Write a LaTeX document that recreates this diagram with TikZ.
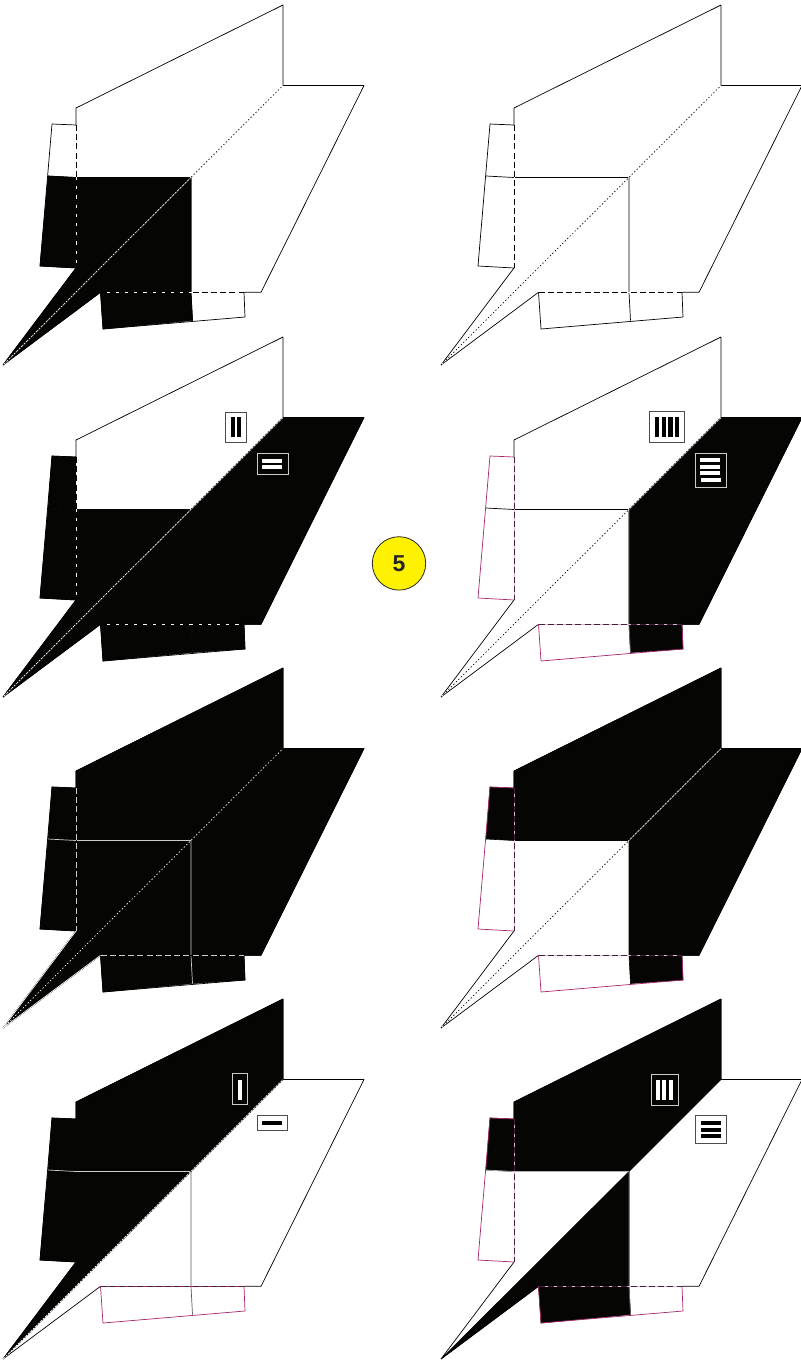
\documentclass[tikz,border=0pt]{standalone}
\usepackage{fontspec}
\setmainfont{Liberation Sans}
\definecolor{ink}{HTML}{050504}
\definecolor{plum}{HTML}{A8246E}
\definecolor{plumdark}{HTML}{43203F}
\definecolor{plumpale}{HTML}{DDB8D0}
\definecolor{badgeyellow}{HTML}{FFF200}
\tikzset{
  edge/.style={line width=0.7pt,line join=bevel},
  inkfill/.style={fill=ink,draw=ink,line width=0.6pt,line join=bevel},
  dashline/.style={line width=0.8pt,dash pattern=on 6pt off 3.2pt},
  dotline/.style={line width=0.7pt,dash pattern=on 1.3pt off 2.2pt},
  iconlight/.style={draw=black!70,line width=0.8pt,fill=white},
  icondark/.style={draw=white!80!black,line width=0.8pt,fill=ink},
  badge/.style={circle,draw=black!85,line width=0.8pt,fill=badgeyellow,minimum size=53.4pt,inner sep=0pt,font=\fontsize{23}{23}\selectfont\bfseries,text=black!85}
}
% geometry of one sheet
\newcommand\Geom{
  \coordinate (T) at (3,365);
  \coordinate (Nb) at (76,268);
  \coordinate (Lb) at (40,266);
  \coordinate (Lm) at (48,176);
  \coordinate (Lt) at (52,124);
  \coordinate (Tr) at (76,125);
  \coordinate (Hl) at (76,177.5);
  \coordinate (Wl) at (76,108);
  \coordinate (Ut) at (283,5);
  \coordinate (Dg) at (283,85.5);
  \coordinate (Rr) at (364,85.5);
  \coordinate (Rb) at (261,292.3);
  \coordinate (Bf) at (244,292.3);
  \coordinate (Vb) at (191,292.3);
  \coordinate (Bl) at (100.5,292.3);
  \coordinate (Bb) at (103,329);
  \coordinate (Bm) at (192.5,320.5);
  \coordinate (Br) at (245,317);
  \coordinate (C) at (191,177.5);
}
\newcommand\rTabTop{(Lt) -- (Tr) -- (Hl) -- (Lm) -- cycle}
\newcommand\rTabBot{(Lm) -- (Hl) -- (Nb) -- (Lb) -- cycle}
\newcommand\rWall{(Wl) -- (Ut) -- (Dg) -- (C) -- (Hl) -- cycle}
\newcommand\rA{(Hl) -- (C) -- (T) -- (Nb) -- cycle}
\newcommand\rB{(C) -- (Vb) -- (Bl) -- (T) -- cycle}
\newcommand\rD{(C) -- (Dg) -- (Rr) -- (Rb) -- (Vb) -- cycle}
\newcommand\rE{(Bl) -- (Bb) -- (Bm) -- (Vb) -- cycle}
\newcommand\rF{(Vb) -- (Bm) -- (Br) -- (Bf) -- cycle}
\newcommand\Outline{\draw[edge] (Tr) -- (Wl) -- (Ut) -- (Dg) -- (Rr) -- (Rb) -- (Bf);
  \draw[edge] (Bl) -- (T) -- (Nb);}
\newcommand\TabL[1]{\draw[edge,draw=#1] (Tr) -- (Lt) -- (Lb) -- (Nb);}
\newcommand\TabB[1]{\draw[edge,draw=#1] (Bl) -- (Bb) -- (Br) -- (Bf);}
\newcommand\FoldH[1]{\draw[edge,draw=#1] (Lm) -- (Hl) -- (C);}
\newcommand\FoldV[1]{\draw[edge,draw=#1] (C) -- (Vb) -- (Bm);}
\newcommand\DashV[2]{\draw[edge,draw=#1] (Tr) -- (Nb); \draw[dashline,draw=#2] (Tr) -- (Nb);}
\newcommand\DashH[2]{\draw[edge,draw=#1] (Bl) -- (Bf); \draw[dashline,draw=#2] (Bl) -- (Bf);}
\newcommand\Diag{\draw[edge,draw=white] (T) -- (Dg); \draw[dotline,draw=black] (T) -- (Dg);}
\newcommand\IconBox[5]{\draw[#1] (#2,#3) rectangle (#4,#5);}
\newcommand\IconBar[5]{\fill[#1] (#2,#3) rectangle (#4,#5);}
\begin{document}
\begin{tikzpicture}[x=1pt,y=-1pt]
\useasboundingbox (0,0) rectangle (801,1361);
% row 1 left
\begin{scope}[shift={(0,0)}]
  \Geom
  \fill[inkfill] \rTabBot; \fill[inkfill] \rA; \fill[inkfill] \rB; \fill[inkfill] \rE;
  \Outline \TabL{black} \TabB{black} \FoldH{black} \FoldV{black}
  \DashV{white}{black} \DashH{white}{black} \Diag
\end{scope}
% row 1 right
\begin{scope}[shift={(438,0)}]
  \Geom
  \Outline \TabL{black} \TabB{black} \FoldH{black} \FoldV{black}
  \DashV{white}{black} \DashH{white}{black} \Diag
\end{scope}
% row 2 left
\begin{scope}[shift={(0,332)}]
  \Geom
  \fill[inkfill] \rTabTop; \fill[inkfill] \rTabBot; \fill[inkfill] \rA; \fill[inkfill] \rB;
  \fill[inkfill] \rD; \fill[inkfill] \rE; \fill[inkfill] \rF;
  \Outline \TabL{black} \TabB{black}
  \DashV{white}{black} \DashH{white}{black} \Diag
\end{scope}
% row 2 right
\begin{scope}[shift={(438,332)}]
  \Geom
  \fill[inkfill] \rD; \fill[inkfill] \rF;
  \Outline \TabL{plum} \TabB{plum} \FoldH{black} \FoldV{black!60}
  \DashV{plumpale}{plumdark} \DashH{plumpale}{plumdark} \Diag
\end{scope}
% row 3 left
\begin{scope}[shift={(0,663)}]
  \Geom
  \fill[inkfill] \rTabTop; \fill[inkfill] \rTabBot; \fill[inkfill] \rWall; \fill[inkfill] \rA;
  \fill[inkfill] \rB; \fill[inkfill] \rD; \fill[inkfill] \rE; \fill[inkfill] \rF;
  \Outline \TabL{black} \TabB{black}
  \draw[edge,draw=white] (Bl) -- (T) -- (Nb);
  \FoldH{white!80!black} \FoldV{white!80!black}
  \DashV{black}{white!80!black} \DashH{black}{white!80!black}
  \draw[dotline,draw=white] (T) -- (Dg);
\end{scope}
% row 3 right
\begin{scope}[shift={(438,663)}]
  \Geom
  \fill[inkfill] \rTabTop; \fill[inkfill] \rWall; \fill[inkfill] \rD; \fill[inkfill] \rF;
  \Outline \TabL{plum} \TabB{plum}
  \DashV{plumpale}{plumdark} \DashH{plumpale}{plumdark} \Diag
\end{scope}
% row 4 left
\begin{scope}[shift={(0,994)}]
  \Geom
  \fill[inkfill] \rTabTop; \fill[inkfill] \rTabBot; \fill[inkfill] \rWall; \fill[inkfill] \rA;
  \Outline \TabL{black} \TabB{plum} \FoldH{white!80!black} \FoldV{black!65}
  \DashH{plum}{plumdark}
  \draw[edge,draw=white] (Dg) -- (T); \draw[dotline,draw=black] (Dg) -- (T);
\end{scope}
% row 4 right
\begin{scope}[shift={(438,994)}]
  \Geom
  \fill[inkfill] \rTabTop; \fill[inkfill] \rWall; \fill[inkfill] \rB; \fill[inkfill] \rE;
  \Outline \TabL{plum} \TabB{plum} \FoldH{black!30} \FoldV{black!60}
  \DashV{plumpale}{plumdark} \DashH{plumpale}{plumdark}
\end{scope}
% icons, row 2 left
\IconBox{iconlight}{225.5}{412}{246.7}{442.3}
\IconBar{black}{231}{417.3}{235}{437.3}
\IconBar{black}{237.3}{417.3}{241.3}{437.3}
\IconBox{icondark}{257.3}{453.3}{288.3}{474.3}
\IconBar{white}{262}{459}{282.3}{462.7}
\IconBar{white}{262}{465.3}{282.3}{469}
% icons, row 2 right
\IconBox{iconlight}{649.7}{411.7}{684.3}{442.3}
\IconBar{black}{655.3}{417}{659.3}{436.7}
\IconBar{black}{662}{417}{666}{436.7}
\IconBar{black}{668.3}{417}{672.5}{436.7}
\IconBar{black}{675}{417}{679}{436.7}
\IconBox{icondark}{695.3}{453.3}{726}{487.3}
\IconBar{white}{700}{458}{720}{462}
\IconBar{white}{700}{465}{720}{469}
\IconBar{white}{700}{471}{720}{475}
\IconBar{white}{701}{478}{721}{482}
% icons, row 4 left
\IconBox{icondark}{232.3}{1073.7}{247.3}{1104.3}
\IconBar{white}{238}{1080}{242}{1100}
\IconBox{iconlight}{257.7}{1115.3}{287.7}{1130.3}
\IconBar{black}{262.3}{1121}{282.3}{1125}
% icons, row 4 right
\IconBox{icondark}{651.3}{1074.7}{678.7}{1105.3}
\IconBar{white}{656}{1080}{660}{1100}
\IconBar{white}{662.3}{1080}{666.3}{1100}
\IconBar{white}{669}{1080}{673}{1100}
\IconBox{iconlight}{695.3}{1115.7}{726}{1143.3}
\IconBar{black}{701}{1121}{721}{1125}
\IconBar{black}{701}{1127.7}{721}{1131.7}
\IconBar{black}{701}{1134}{721}{1138}
% badge
\node[badge] (stepnum) at (399,563.4) {5};
\end{tikzpicture}
\end{document}
